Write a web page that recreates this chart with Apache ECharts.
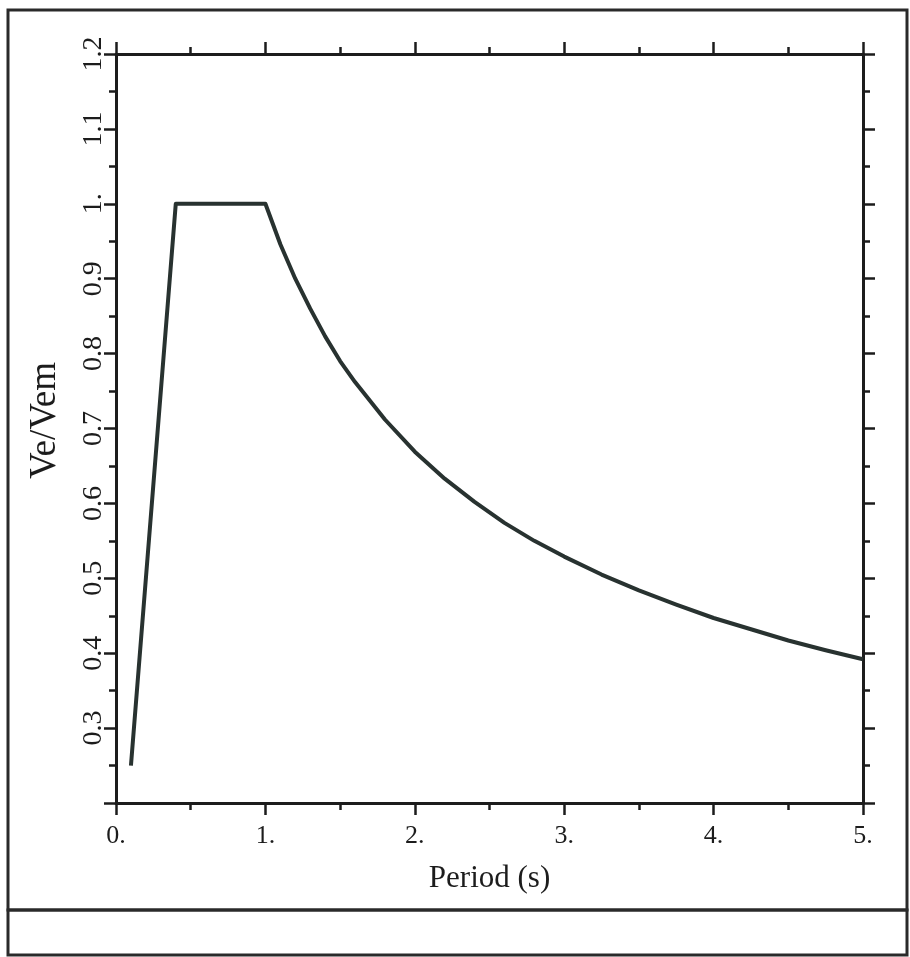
<!DOCTYPE html>
<html>
<head>
<meta charset="utf-8">
<script src="https://cdn.jsdelivr.net/npm/echarts@6/dist/echarts.min.js"></script>
<style>
html,body{margin:0;padding:0;background:#fff;}
#chart{width:910px;height:957px;}
</style>
</head>
<body>
<div id="chart"></div>
<script>
// Period (s) and Ve/Vem
const periods = [0.1, 0.4, 1.0, 1.1, 1.2, 1.3, 1.4, 1.5, 1.6, 1.8, 2.0, 2.2, 2.4, 2.6, 2.8, 3.0, 3.25, 3.5, 3.75, 4.0, 4.25, 4.5, 4.75, 5.0];
const ratios  = [0.25, 1.0, 1.0, 0.946, 0.90, 0.86, 0.823, 0.79, 0.762, 0.712, 0.669, 0.633, 0.602, 0.574, 0.55, 0.529, 0.505, 0.484, 0.465, 0.447, 0.432, 0.417, 0.404, 0.392];

const xTickValues = [0, 1, 2, 3, 4, 5];
const xTickLabels = ['0.', '1.', '2.', '3.', '4.', '5.'];
const yTickValues = [0.3, 0.4, 0.5, 0.6, 0.7, 0.8, 0.9, 1.0, 1.1, 1.2];
const yTickLabels = ['0.3', '0.4', '0.5', '0.6', '0.7', '0.8', '0.9', '1.', '1.1', '1.2'];

const xName = 'Period (s)';
const yName = 'Ve/Vem';

const ink = '#1c1c1c';
const lineInk = '#283230';
const serif = '"Liberation Serif", "Times New Roman", serif';

function labelFor(values, labels, v) {
  for (let i = 0; i < values.length; i++) {
    if (Math.abs(values[i] - v) < 1e-6) return labels[i];
  }
  return '';
}

const axisLineStyle = { show: true, onZero: false, lineStyle: { color: ink, width: 3 } };
const majorTick = { show: true, inside: false, length: 12, lineStyle: { color: ink, width: 2.5 } };
const minorTick = { show: true, splitNumber: 2, length: 7, lineStyle: { color: ink, width: 2.5 } };

const chart = echarts.init(document.getElementById('chart'), null, { renderer: 'canvas' });
chart.setOption({
  backgroundColor: '#ffffff',
  animation: false,
  grid: { left: 116, right: 47, top: 54, bottom: 154, containLabel: false },
  graphic: [
    { type: 'rect', shape: { x: 8, y: 10, width: 899, height: 900 }, style: { fill: 'none', stroke: '#2a2a2a', lineWidth: 3 }, z: -1 },
    { type: 'rect', shape: { x: 8, y: 910, width: 899, height: 45 }, style: { fill: 'none', stroke: '#2a2a2a', lineWidth: 3 }, z: -1 }
  ],
  xAxis: [
    {
      type: 'value', position: 'bottom', min: 0, max: 5, interval: 1,
      axisLine: axisLineStyle, axisTick: majorTick, minorTick: minorTick,
      splitLine: { show: false },
      axisLabel: {
        show: true, margin: 20, color: ink, fontFamily: serif, fontSize: 26,
        formatter: v => labelFor(xTickValues, xTickLabels, v)
      },
      name: xName, nameLocation: 'middle', nameGap: 60,
      nameTextStyle: { color: ink, fontFamily: serif, fontSize: 31 }
    },
    {
      type: 'value', position: 'top', min: 0, max: 5, interval: 1,
      axisLine: axisLineStyle, axisTick: majorTick, minorTick: minorTick,
      splitLine: { show: false }, axisLabel: { show: false }
    }
  ],
  yAxis: [
    {
      type: 'value', position: 'left', min: 0.2, max: 1.2, interval: 0.1,
      axisLine: axisLineStyle, axisTick: majorTick, minorTick: minorTick,
      splitLine: { show: false },
      axisLabel: {
        show: true, margin: 8, rotate: 90, color: ink, fontFamily: serif, fontSize: 28,
        formatter: v => labelFor(yTickValues, yTickLabels, v)
      },
      name: yName, nameLocation: 'middle', nameGap: 52, nameRotate: 90,
      nameTextStyle: { color: ink, fontFamily: serif, fontSize: 37, padding: [0, 0, 0, 16] }
    },
    {
      type: 'value', position: 'right', min: 0.2, max: 1.2, interval: 0.1,
      axisLine: axisLineStyle, axisTick: majorTick, minorTick: minorTick,
      splitLine: { show: false }, axisLabel: { show: false }
    }
  ],
  series: [
    {
      type: 'line',
      xAxisIndex: 0, yAxisIndex: 0,
      data: periods.map((p, i) => [p, ratios[i]]),
      showSymbol: false, symbol: 'none',
      smooth: false,
      lineStyle: { color: lineInk, width: 4, join: 'round' },
      silent: true
    }
  ]
});
</script>
</body>
</html>
